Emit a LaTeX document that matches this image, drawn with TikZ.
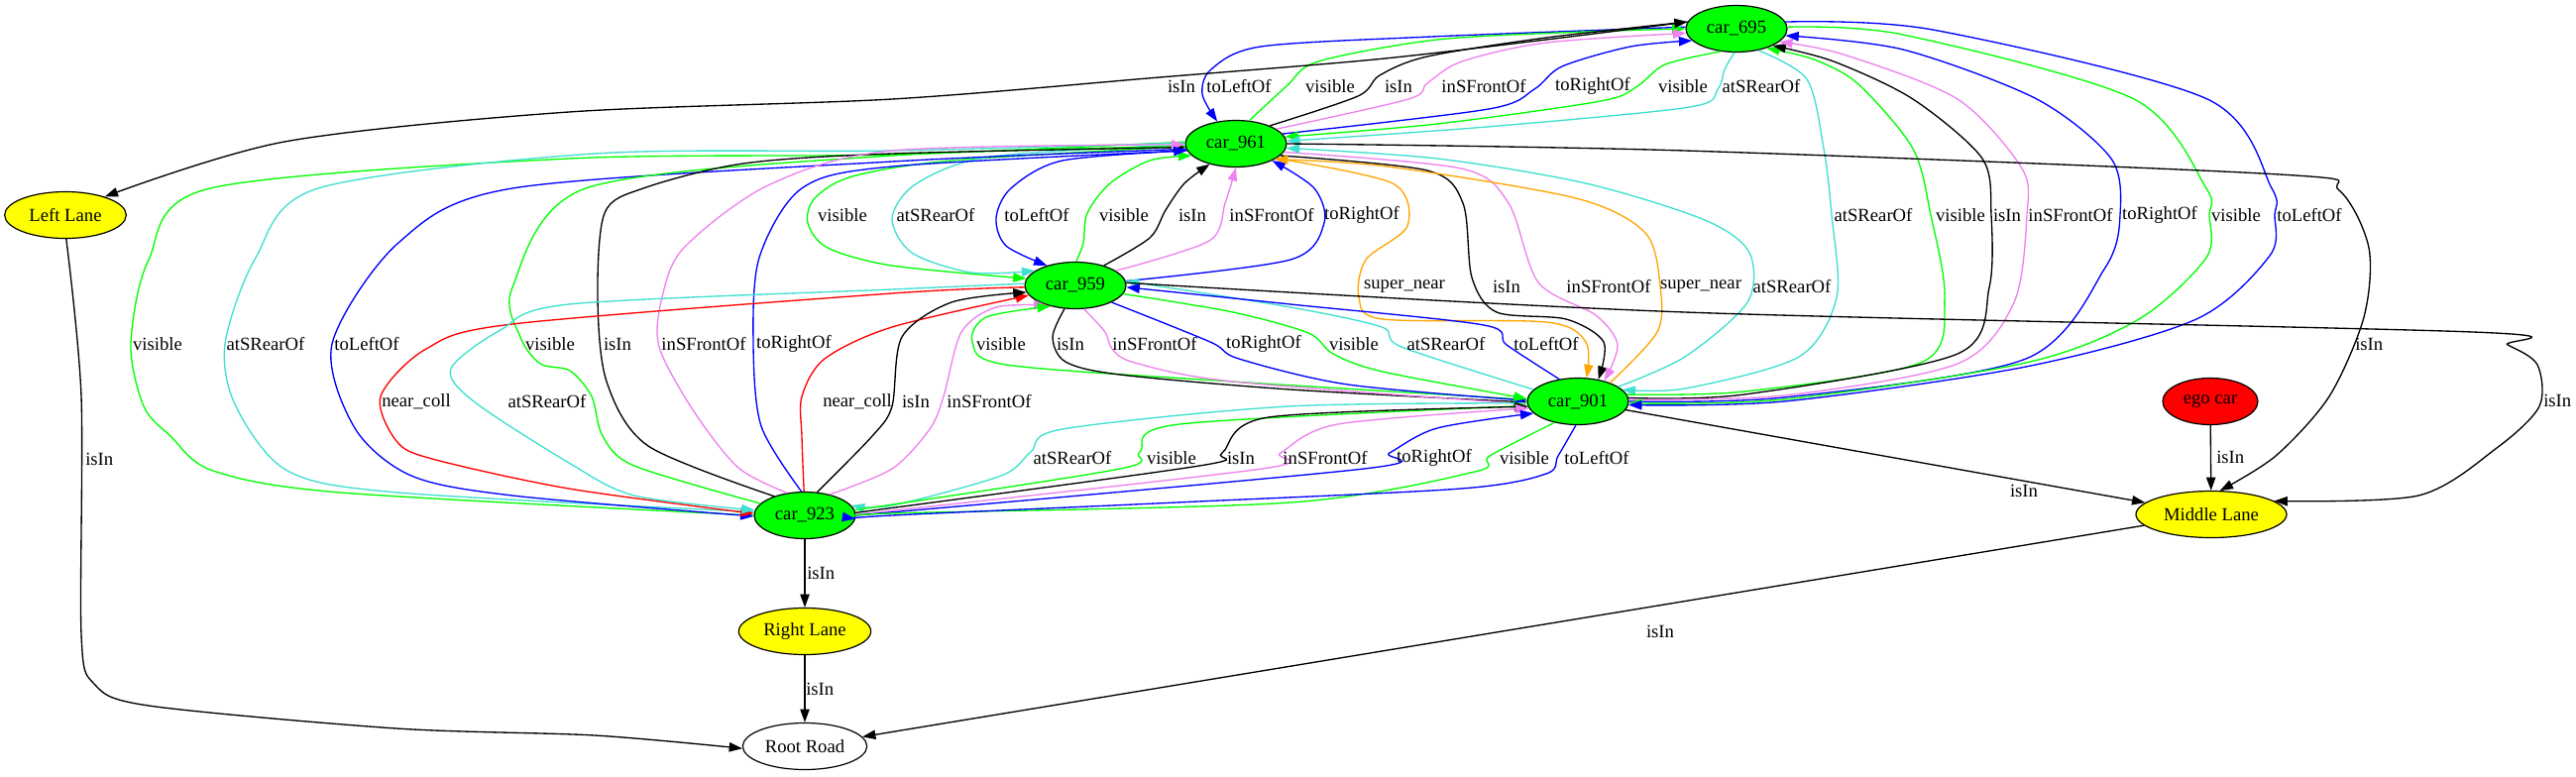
\documentclass[tikz,border=0pt]{standalone}
\usepackage{fontspec}
\setmainfont{Liberation Serif}
\usetikzlibrary{arrows.meta,shapes.geometric}
\definecolor{gvgreen}{HTML}{00FF00}
\definecolor{gvblue}{HTML}{0000FF}
\definecolor{gvviolet}{HTML}{EE82EE}
\definecolor{gvturq}{HTML}{40E0D0}
\definecolor{gvorange}{HTML}{FFA500}
\definecolor{gvred}{HTML}{FF0000}
\definecolor{gvyellow}{HTML}{FFFF00}
\begin{document}
\begin{tikzpicture}[x=0.75pt,y=-0.75pt,
  every node/.style={font=\fontsize{14pt}{16pt}\selectfont},
  gnode/.style={ellipse,draw=black,line width=0.9pt,inner sep=0pt,minimum height=35.25pt},
  car/.style={gnode,fill=gvgreen,minimum width=76.5pt},
  lane/.style={gnode,fill=gvyellow},
  road/.style={gnode,fill=white,minimum width=94pt},
  egonode/.style={gnode,fill=gvred,minimum width=72pt},
  lbl/.style={inner sep=0pt},
  edg/.style={-{Triangle[length=10pt,width=7pt]},line width=1pt},
  rIsIn/.style={edg,draw=black},
  rVis/.style={edg,draw=gvgreen},
  rFront/.style={edg,draw=gvviolet},
  rRear/.style={edg,draw=gvturq},
  rLeft/.style={edg,draw=gvblue},
  rRight/.style={edg,draw=gvblue},
  rSuper/.style={edg,draw=gvorange},
  rColl/.style={edg,draw=gvred}]
\useasboundingbox (0,0) rectangle (2599,783);
\fill[white] (0,0) rectangle (2599,783);

% nodes
\node[car] (c695) at (1752,29) {car\_695};
\node[car] (c961) at (1247,145) {car\_961};
\node[car] (c959) at (1085,288) {car\_959};
\node[car] (c901) at (1592,405) {car\_901};
\node[car] (c923) at (812,520) {car\_923};
\node[lane,minimum width=92pt] (ll) at (66,217) {Left Lane};
\node[lane,minimum width=114pt] (ml) at (2231,519) {Middle Lane};
\node[lane,minimum width=100pt] (rl) at (812,637) {Right Lane};
\node[road] (rr) at (812,753) {Root Road};
\node[egonode] (ego) at (2230,405) {ego car};

% ---- pair 695 / 961 (labels y=87)
\draw[rLeft] plot[smooth] coordinates {(c695.178) (1444,37) (1272,47) (1222,70) (1213,95) (c961.130)};
\draw[rVis] plot[smooth] coordinates {(c961.60) (1298,87) (1330,62) (1450,40) (1600,32) (c695.180)};
\draw[rIsIn] plot[smooth] coordinates {(c961.28) (1370,97) (1392,76) (1440,57) (1560,38) (c695.172)};
\draw[rFront] plot[smooth] coordinates {(c961.20) (1421,100) (1440,84) (1475,62) (1560,43) (c695.185)};
\draw[rRight] plot[smooth] coordinates {(c961.12) (1502,110) (1548,90) (1576,67) (1645,47) (c695.195)};
\draw[rVis] plot[smooth] coordinates {(c695.235) (1680,65) (1652,87) (1615,102) (1450,125) (c961.8)};
\draw[rRear] plot[smooth] coordinates {(c695.265) (1740,70) (1733,90) (1705,108) (1500,128) (c961.3)};
\draw[rIsIn] plot[smooth] coordinates {(c695.172) (1560,40) (1387,60) (1170,78) (900,100) (574,113) (287,143) (ll.25)};
\node[lbl] (t01) at (1192,87) {isIn};
\node[lbl] (t02) at (1250,87) {toLeftOf};
\node[lbl] (t03) at (1342,87) {visible};
\node[lbl] (t04) at (1411,87) {isIn};
\node[lbl] (t05) at (1497,87) {inSFrontOf};
\node[lbl] (t06) at (1607,87) {toRightOf};
\node[lbl] (t07) at (1698,87) {visible};
\node[lbl] (t08) at (1777,87) {atSRearOf};

% ---- pair 961 / 959 (labels y=217)
\draw[rVis] plot[smooth] coordinates {(c961.183) (960,162) (860,178) (822,200) (815,225) (835,250) (900,268) (c959.172)};
\draw[rRear] plot[smooth] coordinates {(c961.181) (1000,158) (925,185) (900,220) (920,255) (980,275) (c959.160)};
\draw[rLeft] plot[smooth] coordinates {(c961.188) (1072,162) (1020,190) (1005,220) (1015,248) (c959.145)};
\draw[rVis] plot[smooth] coordinates {(c959.88) (1093,245) (1097,215) (1120,185) (1160,162) (c961.195)};
\draw[rIsIn] plot[smooth] coordinates {(c959.35) (1160,240) (1176,212) (1195,185) (c961.218)};
\draw[rFront] plot[smooth] coordinates {(c959.20) (1220,243) (1236,205) (c961.270)};
\draw[rRight] plot[smooth] coordinates {(c959.5) (1302,262) (1336,225) (1326,190) (c961.335)};
\node[lbl] (t11) at (850,217) {visible};
\node[lbl] (t12) at (944,217) {atSRearOf};
\node[lbl] (t13) at (1046,217) {toLeftOf};
\node[lbl] (t14) at (1134,217) {visible};
\node[lbl] (t15) at (1203,217) {isIn};
\node[lbl] (t16) at (1283,217) {inSFrontOf};
\node[lbl] (t17) at (1374,217) {toRightOf};

% ---- pair 961 / 901 (labels y=289)
\draw[rSuper] plot[smooth] coordinates {(c961.340) (1405,185) (1420,228) (1378,262) (1371,300) (1395,322) (1560,325) (1600,345) (c901.70)};
\draw[rIsIn] plot[smooth] coordinates {(c961.345) (1440,172) (1476,205) (1485,280) (1510,315) (1580,322) (1618,345) (c901.47)};
\draw[rFront] plot[smooth] coordinates {(c961.350) (1474,170) (1522,205) (1552,285) (1610,318) (1632,348) (c901.38)};
\draw[rSuper] plot[smooth] coordinates {(c901.30) (1672,335) (1675,289) (1660,235) (1590,200) (1400,168) (c961.338)};
\draw[rRear] plot[smooth] coordinates {(c901.20) (1700,360) (1763,305) (1765,255) (1720,222) (1600,185) (1450,160) (c961.355)};
\node[lbl] (t21) at (1417,289) {super\_near};
\node[lbl] (t22) at (1520,289) {isIn};
\node[lbl] (t23) at (1623,289) {inSFrontOf};
\node[lbl] (t24) at (1716,289) {super\_near};
\node[lbl] (t25) at (1808,289) {atSRearOf};

% ---- pair 695 / 901 (labels y=217)
\draw[rRear] plot[smooth] coordinates {(c695.315) (1823,80) (1840,150) (1848,217) (1853,300) (1815,360) (1700,392) (c901.15)};
\draw[rVis] plot[smooth] coordinates {(c901.8) (1760,395) (1940,365) (1962,300) (1948,217) (1930,150) (1875,85) (1830,60) (c695.327)};
\draw[rIsIn] plot[smooth] coordinates {(c901.4) (1760,398) (1975,357) (2007,290) (2009,217) (2000,160) (1930,100) (1850,62) (c695.335)};
\draw[rFront] plot[smooth] coordinates {(c901.2) (1800,399) (1975,367) (2032,305) (2045,217) (2040,170) (1975,100) (1860,55) (c695.343)};
\draw[rRight] plot[smooth] coordinates {(c901.0) (1800,401) (2044,362) (2124,270) (2139,217) (2130,160) (2055,100) (1920,50) (c695.352)};
\draw[rVis] plot[smooth] coordinates {(c695.2) (1920,35) (2153,100) (2226,190) (2229,217) (2226,260) (2158,322) (2044,366) (1800,403) (c901.358)};
\draw[rLeft] plot[smooth] coordinates {(c695.8) (1950,30) (2227,100) (2292,190) (2295,217) (2290,258) (2216,322) (2044,370) (1800,405) (c901.356)};
\node[lbl] (t31) at (1890,217) {atSRearOf};
\node[lbl] (t32) at (1978,217) {visible};
\node[lbl] (t33) at (2025,217) {isIn};
\node[lbl] (t34) at (2089,217) {inSFrontOf};
\node[lbl] (t35) at (2179,217) {toRightOf};
\node[lbl] (t36) at (2256,217) {visible};
\node[lbl] (t37) at (2330,217) {toLeftOf};

% ---- pair 961 / 923 (labels y=347)
\draw[rVis] plot[smooth] coordinates {(c961.178) (900,156) (574,160) (212,190) (150,262) (132,347) (145,410) (172,440) (215,475) (344,497) (c923.180)};
\draw[rRear] plot[smooth] coordinates {(c961.179) (900,152) (600,155) (321,190) (258,260) (227,347) (238,410) (290,475) (402,497) (c923.176)};
\draw[rLeft] plot[smooth] coordinates {(c961.186) (900,163) (517,190) (402,245) (335,347) (358,432) (415,480) (517,500) (c923.181)};
\draw[rVis] plot[smooth] coordinates {(c923.165) (640,470) (608,440) (597,400) (575,374) (545,367) (525,340) (517,290) (591,190) (900,157) (c961.183)};
\draw[rIsIn] plot[smooth] coordinates {(c923.148) (654,450) (612,385) (603,300) (610,215) (649,190) (750,165) (900,155) (c961.184)};
\draw[rFront] plot[smooth] coordinates {(c923.128) (745,472) (700,415) (665,350) (668,300) (690,250) (775,187) (900,152) (c961.181)};
\draw[rRight] plot[smooth] coordinates {(c923.98) (768,430) (760,347) (766,260) (809,190) (900,168) (c961.188)};
\node[lbl] (t41) at (159,347) {visible};
\node[lbl] (t42) at (268,347) {atSRearOf};
\node[lbl] (t43) at (370,347) {toLeftOf};
\node[lbl] (t44) at (555,347) {visible};
\node[lbl] (t45) at (623,347) {isIn};
\node[lbl] (t46) at (710,347) {inSFrontOf};
\node[lbl] (t47) at (801,347) {toRightOf};

% ---- pair 959 / 923 (labels y=405)
\draw[rColl] plot[smooth] coordinates {(c959.182) (900,296) (517,327) (430,352) (384,400) (400,445) (436,463) (574,493) (c923.178)};
\draw[rRear] plot[smooth] coordinates {(c959.178) (900,292) (574,307) (505,333) (455,372) (478,405) (574,467) (640,500) (c923.174)};
\draw[rColl] plot[smooth] coordinates {(c923.92) (809,440) (809,400) (832,362) (900,330) (c959.192)};
\draw[rIsIn] plot[smooth] coordinates {(c923.62) (880,440) (900,410) (910,340) (960,305) (c959.188)};
\draw[rFront] plot[smooth] coordinates {(c923.40) (900,473) (938,433) (952,400) (970,335) (1005,310) (c959.215)};
\node[lbl] (t51) at (420,405) {near\_coll};
\node[lbl] (t52) at (552,405) {atSRearOf};
\node[lbl] (t53) at (865,405) {near\_coll};
\node[lbl] (t54) at (924,405) {isIn};
\node[lbl] (t55) at (998,405) {inSFrontOf};

% ---- pair 959 / 901 (labels y=347)
\draw[rVis] plot[smooth] coordinates {(c901.178) (1244,385) (1015,368) (981,345) (995,320) (c959.220)};
\draw[rIsIn] plot[smooth] coordinates {(c959.245) (1062,340) (1075,365) (1130,378) (1302,393) (c901.181)};
\draw[rFront] plot[smooth] coordinates {(c959.290) (1115,335) (1122,352) (1145,366) (1244,385) (c901.183)};
\draw[rRight] plot[smooth] coordinates {(c959.335) (1221,345) (1250,362) (1360,388) (c901.179)};
\draw[rVis] plot[smooth] coordinates {(c959.350) (1244,315) (1320,336) (1345,357) (1395,375) (c901.177)};
\draw[rRear] plot[smooth] coordinates {(c901.165) (1414,350) (1394,330) (1302,310) (c959.5)};
\draw[rLeft] plot[smooth] coordinates {(c901.130) (1520,348) (1497,328) (1302,307) (c959.358)};
\node[lbl] (t61) at (1010,347) {visible};
\node[lbl] (t62) at (1080,347) {isIn};
\node[lbl] (t63) at (1165,347) {inSFrontOf};
\node[lbl] (t64) at (1275,347) {toRightOf};
\node[lbl] (t65) at (1366,347) {visible};
\node[lbl] (t66) at (1459,347) {atSRearOf};
\node[lbl] (t67) at (1560,347) {toLeftOf};

% ---- pair 901 / 923 (labels y=462)
\draw[rRear] plot[smooth] coordinates {(c901.182) (1300,410) (1072,433) (1040,456) (1010,480) (900,510) (c923.12)};
\draw[rVis] plot[smooth] coordinates {(c923.6) (1130,473) (1150,456) (1190,428) (c901.185)};
\draw[rIsIn] plot[smooth] coordinates {(c923.3) (1210,470) (1233,457) (1280,421) (c901.186)};
\draw[rFront] plot[smooth] coordinates {(c923.1) (1273,473) (1292,457) (1350,428) (c901.188)};
\draw[rRight] plot[smooth] coordinates {(c923.0) (1376,473) (1402,457) (1450,432) (c901.195)};
\draw[rVis] plot[smooth] coordinates {(c901.222) (1503,460) (1488,476) (1302,507) (900,518) (c923.358)};
\draw[rLeft] plot[smooth] coordinates {(c901.265) (1572,460) (1560,478) (1474,493) (1187,507) (900,520) (c923.356)};
\node[lbl] (t71) at (1082,462) {atSRearOf};
\node[lbl] (t72) at (1182,462) {visible};
\node[lbl] (t73) at (1252,462) {isIn};
\node[lbl] (t74) at (1337,462) {inSFrontOf};
\node[lbl] (t75) at (1447,462) {toRightOf};
\node[lbl] (t76) at (1538,462) {visible};
\node[lbl] (t77) at (1611,462) {toLeftOf};

% ---- lanes
\draw[rIsIn] plot[smooth] coordinates {(ll.272) (82,400) (82,640) (95,690) (150,712) (400,735) (600,742) (rr.182)};
\node[lbl,anchor=west] (t81) at (86,463) {isIn};
\draw[rIsIn] (c923) -- (rl);
\node[lbl,anchor=west] (t82) at (814,578) {isIn};
\draw[rIsIn] (rl) -- (rr);
\node[lbl,anchor=west] (t83) at (813,695) {isIn};
\draw[rIsIn] (ml) -- (rr);
\node[lbl] (t84) at (1675,637) {isIn};
\draw[rIsIn] (ego) -- (ml);
\node[lbl,anchor=west] (t85) at (2236,461) {isIn};
\draw[rIsIn] (c901) -- (ml);
\node[lbl] (t86) at (2042,495) {isIn};
\draw[rIsIn] plot[smooth] coordinates {(c961.0) (1700,152) (2300,176) (2360,192) (2390,250) (2385,320) (2350,400) (2296,460) (ml.70)};
\node[lbl,anchor=west] (t87) at (2376,347) {isIn};
\draw[rIsIn] plot[smooth] coordinates {(c959.3) (1700,315) (2495,335) (2530,348) (2560,368) (2562,410) (2519,452) (2440,500) (ml.12)};
\node[lbl,anchor=west] (t88) at (2566,404) {isIn};
\end{tikzpicture}
\end{document}
